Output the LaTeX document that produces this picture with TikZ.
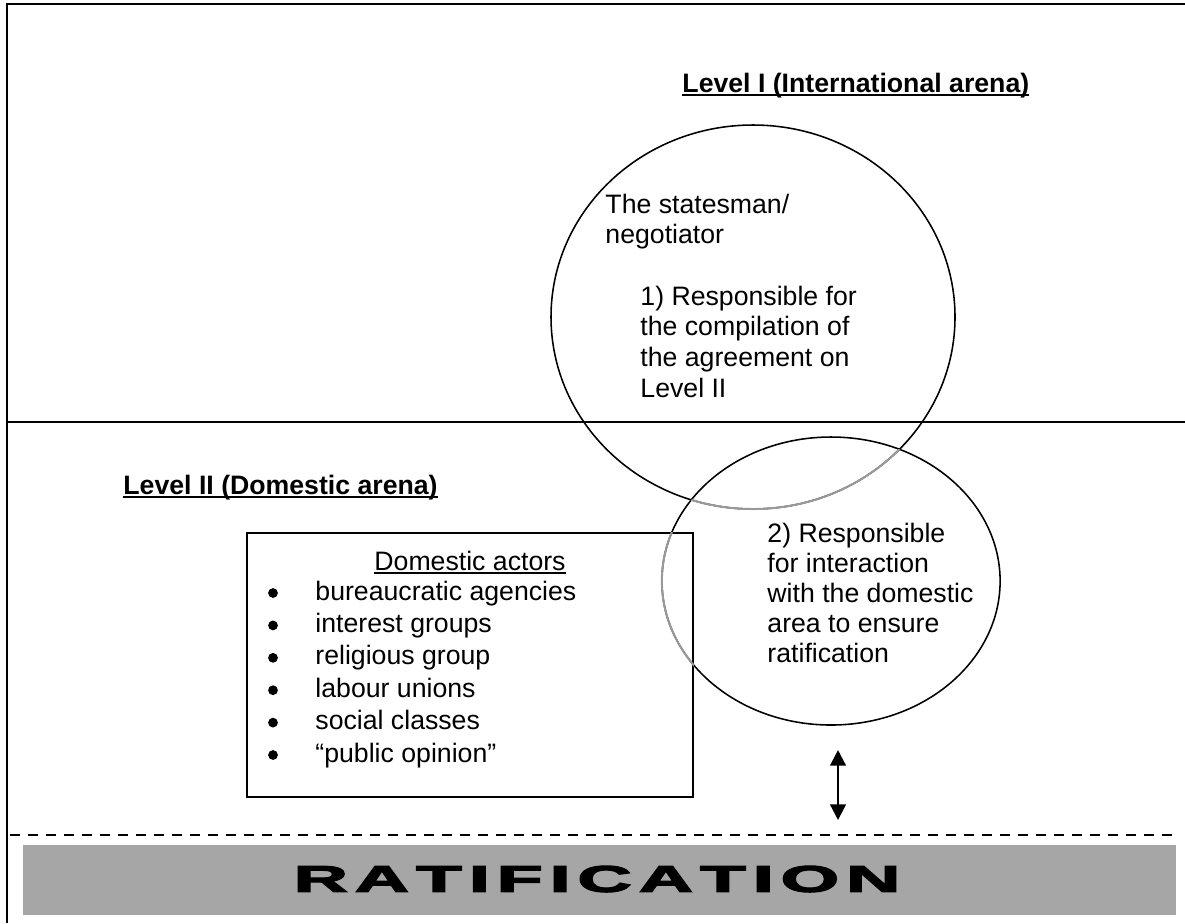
\documentclass[tikz,border=0pt]{standalone}
\usepackage{fontspec}
\setmainfont{Liberation Sans}
\newfontfamily\heavyfont[BoldFeatures={FakeBold=3}]{Liberation Sans}
\usetikzlibrary{arrows.meta}
\newcommand{\ulin}[1]{\setbox0\hbox{#1}\rlap{\rule[-1.7pt]{\wd0}{0.6pt}}\box0}

\begin{document}
\begin{tikzpicture}[x=0.45pt, y=-0.45pt, font=\fontsize{12pt}{13.8pt}\selectfont, >={Triangle[width=7pt,length=7pt]},
  frame/.style={line width=0.9pt},
  ring/.style={line width=0.7pt},
  faint/.style={line width=0.9pt, draw=black!40},
  title/.style={font=\fontsize{12pt}{13.8pt}\selectfont\bfseries, anchor=base west, inner sep=0pt},
  txt/.style={anchor=base west, inner sep=0pt, align=left},
  bullet/.style={circle, fill, inner sep=0pt, minimum size=4.4pt},
  actorbox/.style={draw, line width=0.8pt, minimum width=200.7pt, minimum height=118.8pt, inner sep=0pt}]

\useasboundingbox (0,0) rectangle (1185,923);

% frame and arenas
\draw[frame] (1185,4) -- (7,4) -- (7,923);
\draw[frame] (7,422) -- (1185,422);
\draw[frame, dash pattern=on 4.5pt off 3.6pt] (10,835) -- (1180,835);
\fill[black!35] (23,845) rectangle (1176,915);

\node[title] (lvlone) at (682,92) {\ulin{Level I (International arena)}};
\node[title] (lvltwo) at (123,494) {\ulin{Level II (Domestic arena)}};

% the two circles
\coordinate (cone) at (753,317);
\coordinate (ctwo) at (831,581);
\draw[ring] (cone) ellipse [x radius=90.9pt, y radius=86.4pt];
\draw[ring] (ctwo) ellipse [x radius=76.1pt, y radius=64.8pt];

% domestic actors
\node[actorbox] (actors) at (470,665) {};
\begin{scope}
  \clip (ctwo) ellipse [x radius=76.1pt, y radius=64.8pt];
  \draw[faint] (cone) ellipse [x radius=90.9pt, y radius=86.4pt];
\end{scope}
\begin{scope}
  \clip (actors.north west) rectangle (actors.south east);
  \draw[faint] (ctwo) ellipse [x radius=76.1pt, y radius=64.8pt];
\end{scope}
\node[anchor=base, inner sep=0pt] (head) at (470,570) {\ulin{Domestic actors}};
\foreach \txt [count=\i] in {bureaucratic agencies, interest groups, religious group, labour unions, social classes, “public opinion”} {
  \node[bullet] (dot\i) at (273,{593+32.4*(\i-1)}) {};
  \node[txt] (item\i) at (315,{600+32.4*(\i-1)}) {\txt};
}

% circle texts (anchored at the last line)
\node[txt, font=\fontsize{12pt}{13.5pt}\selectfont] (stman) at (605,243) {The statesman/\\negotiator};
\node[txt] (taskone) at (640,397) {1) Responsible for\\the compilation of\\the agreement on\\Level II};
\node[txt, font=\fontsize{12pt}{13.5pt}\selectfont] (tasktwo) at (767,662) {2) Responsible\\for interaction\\with the domestic\\area to ensure\\ratification};

% ratification
\node[inner sep=0pt] (ratif) at (597,879) {\resizebox{273pt}{11.7pt}{\heavyfont\bfseries\fontsize{16pt}{18pt}\selectfont R\kern1.5pt A\kern1.5pt T\kern1.5pt I\kern1.5pt F\kern1.5pt I\kern1.5pt C\kern1.5pt A\kern1.5pt T\kern1.5pt I\kern1.5pt O\kern1.5pt N}};
\coordinate (up) at (838,750);
\coordinate (down) at (838,820);
\draw[<->, line width=1pt] (up) -- (down);
\end{tikzpicture}
\end{document}
